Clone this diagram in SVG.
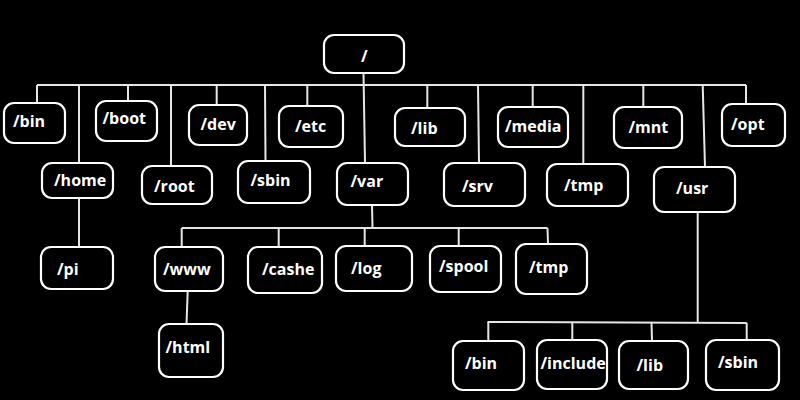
<svg xmlns="http://www.w3.org/2000/svg" width="800" height="400" viewBox="0 0 800 400">
<style>
.n rect{fill:#000;stroke:#fff;stroke-width:2.2}
.n text{fill:#fff;font-family:"Open Sans","Liberation Sans",sans-serif;font-weight:700;font-size:16px}
#connectors line{stroke:#e6e6e6;stroke-width:2}
</style>
<rect x="0" y="0" width="800" height="400" fill="#000"/>
<g id="connectors">
<line x1="37" y1="85" x2="746" y2="85"/>
<line x1="363.5" y1="73" x2="365" y2="163"/>
<line x1="37" y1="85" x2="37" y2="103"/>
<line x1="79" y1="85" x2="79" y2="163"/>
<line x1="79" y1="198" x2="79" y2="247"/>
<line x1="128" y1="85" x2="128" y2="101"/>
<line x1="171" y1="85" x2="171" y2="166"/>
<line x1="216.7" y1="85" x2="216.7" y2="105"/>
<line x1="265" y1="85" x2="265.5" y2="161"/>
<line x1="307.3" y1="85" x2="307.3" y2="106"/>
<line x1="427.3" y1="85" x2="427.3" y2="108"/>
<line x1="478" y1="85" x2="479" y2="163"/>
<line x1="532.7" y1="85" x2="532.7" y2="107"/>
<line x1="583.3" y1="85" x2="583.3" y2="164"/>
<line x1="643.3" y1="85" x2="643.3" y2="107"/>
<line x1="702.7" y1="85" x2="705" y2="167"/>
<line x1="746" y1="85" x2="746" y2="104"/>
<line x1="372" y1="205" x2="372.5" y2="228"/>
<line x1="181.7" y1="228" x2="547.5" y2="228"/>
<line x1="181.7" y1="228" x2="181.7" y2="247"/>
<line x1="278.7" y1="228" x2="278.7" y2="247"/>
<line x1="364.7" y1="228" x2="364.7" y2="246"/>
<line x1="458.7" y1="228" x2="458.7" y2="246"/>
<line x1="547.5" y1="228" x2="548" y2="244"/>
<line x1="187.7" y1="291" x2="186.5" y2="324"/>
<line x1="697.7" y1="212" x2="697.7" y2="322.5"/>
<line x1="487.5" y1="322" x2="746.7" y2="323"/>
<line x1="488.3" y1="322" x2="488.3" y2="341"/>
<line x1="572.3" y1="322.3" x2="572.3" y2="340"/>
<line x1="651.5" y1="322.6" x2="652" y2="341"/>
<line x1="746.7" y1="323" x2="746.7" y2="340"/>
</g>
<g id="root" class="n"><rect x="324" y="35" width="80" height="38" rx="10"/><text x="361" y="62">/</text></g>
<g id="bin" class="n"><rect x="4" y="103" width="61" height="40" rx="10"/><text x="13" y="127">/bin</text></g>
<g id="boot" class="n"><rect x="96" y="101" width="61" height="40" rx="10"/><text x="102.5" y="124">/boot</text></g>
<g id="dev" class="n"><rect x="189" y="105" width="58" height="40" rx="10"/><text x="200.5" y="130">/dev</text></g>
<g id="etc" class="n"><rect x="279" y="106" width="64" height="41" rx="10"/><text x="295" y="131.5">/etc</text></g>
<g id="lib" class="n"><rect x="395" y="108" width="70" height="38" rx="10"/><text x="411" y="134">/lib</text></g>
<g id="media" class="n"><rect x="498" y="107" width="70" height="40" rx="10"/><text x="505" y="131.5">/media</text></g>
<g id="mnt" class="n"><rect x="614" y="107" width="68" height="41" rx="10"/><text x="628.5" y="133">/mnt</text></g>
<g id="opt" class="n"><rect x="722" y="104" width="63" height="42" rx="10"/><text x="731" y="130">/opt</text></g>
<g id="home" class="n"><rect x="42" y="163" width="71" height="35" rx="10"/><text x="54" y="185.5">/home</text></g>
<g id="root_dir" class="n"><rect x="142" y="166" width="70" height="38" rx="10"/><text x="154" y="191.5">/root</text></g>
<g id="sbin" class="n"><rect x="238" y="161" width="72" height="42" rx="10"/><text x="250.5" y="185.5">/sbin</text></g>
<g id="var" class="n"><rect x="337" y="163" width="71" height="42" rx="10"/><text x="350.5" y="187">/var</text></g>
<g id="srv" class="n"><rect x="444" y="163" width="81" height="43" rx="10"/><text x="462" y="192">/srv</text></g>
<g id="tmp" class="n"><rect x="547" y="164" width="81" height="42" rx="10"/><text x="564" y="191">/tmp</text></g>
<g id="usr" class="n"><rect x="654" y="167" width="81" height="45" rx="10"/><text x="676" y="194">/usr</text></g>
<g id="pi" class="n"><rect x="41" y="247" width="72" height="42" rx="10"/><text x="57" y="275">/pi</text></g>
<g id="www" class="n"><rect x="155" y="247" width="68" height="44" rx="10"/><text x="163" y="275">/www</text></g>
<g id="cashe" class="n"><rect x="248" y="247" width="74" height="46" rx="10"/><text x="262" y="275">/cashe</text></g>
<g id="log" class="n"><rect x="336" y="246" width="76" height="45" rx="10"/><text x="351" y="274">/log</text></g>
<g id="spool" class="n"><rect x="430" y="246" width="71" height="46" rx="10"/><text x="439" y="271.5">/spool</text></g>
<g id="var_tmp" class="n"><rect x="516" y="244" width="71" height="50" rx="10"/><text x="529" y="273">/tmp</text></g>
<g id="html" class="n"><rect x="159" y="324" width="64" height="53" rx="10"/><text x="165.5" y="353">/html</text></g>
<g id="usr_bin" class="n"><rect x="453" y="341" width="71" height="49" rx="10"/><text x="465" y="369">/bin</text></g>
<g id="include" class="n"><rect x="537" y="340" width="70" height="49" rx="10"/><text x="540.5" y="369">/include</text></g>
<g id="usr_lib" class="n"><rect x="619" y="341" width="69" height="48" rx="10"/><text x="636.5" y="370.5">/lib</text></g>
<g id="usr_sbin" class="n"><rect x="706" y="340" width="73" height="50" rx="10"/><text x="718" y="368">/sbin</text></g>
</svg>
